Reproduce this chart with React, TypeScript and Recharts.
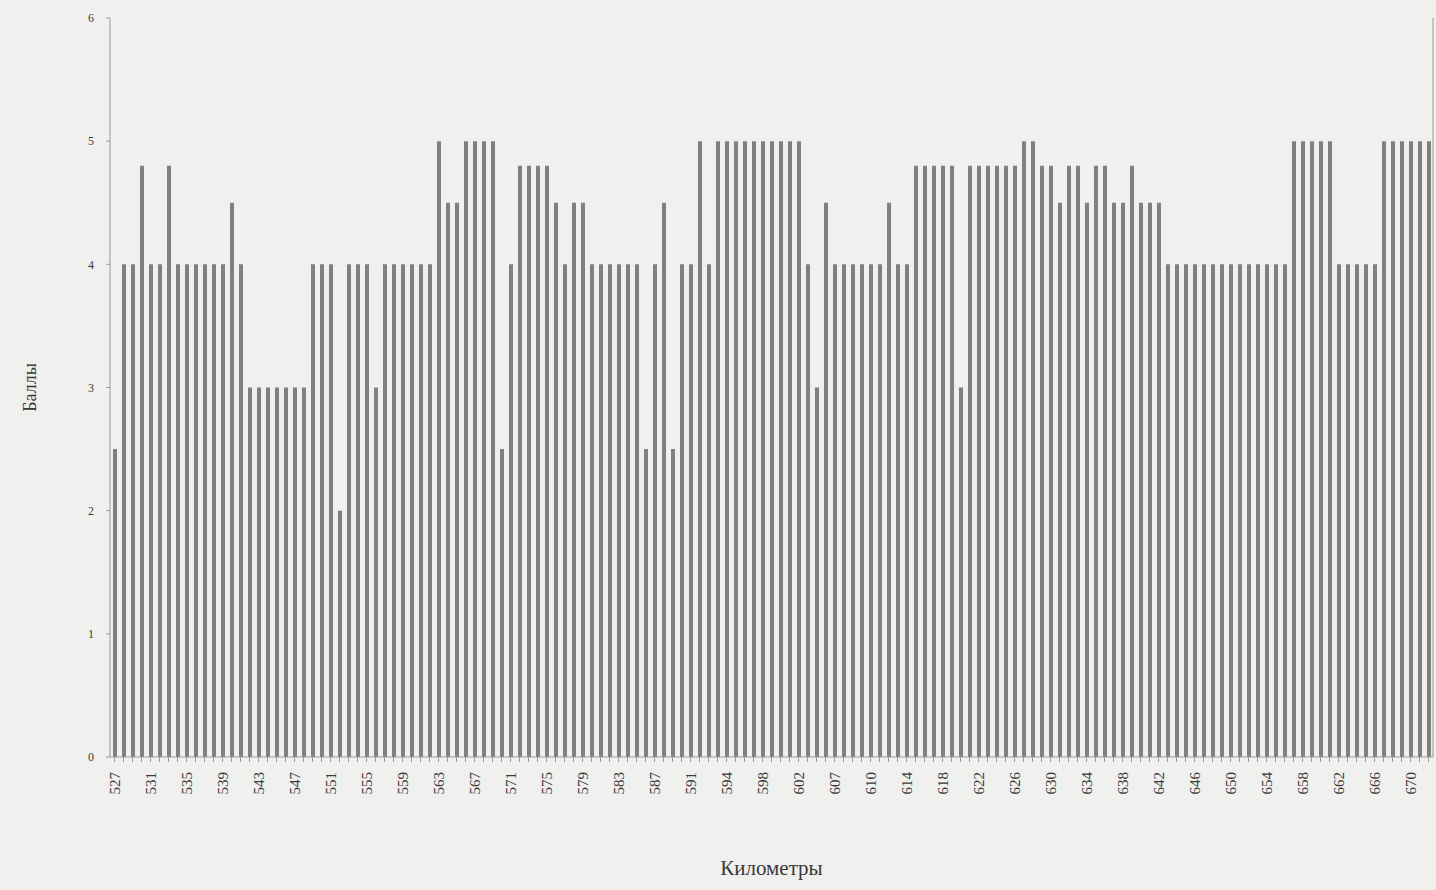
import React from 'react';
import { BarChart, Bar, XAxis, YAxis } from 'recharts';

// Километры (every 4th one is labelled on the axis)
const km: string[] = [
  '527', '528', '529', '530', '531', '532', '533', '534', '535', '536', '537', '538', '539', '540', '541', '542',
  '543', '544', '545', '546', '547', '548', '549', '550', '551', '552', '553', '554', '555', '556', '557', '558',
  '559', '560', '561', '562', '563', '564', '565', '566', '567', '568', '569', '570', '571', '572', '573', '574',
  '575', '576', '577', '578', '579', '580', '581', '582', '583', '584', '585', '586', '587', '588', '589', '590',
  '591', '592', '592', '593', '594', '595', '596', '597', '598', '599', '600', '601', '602', '603', '604', '606',
  '607', '608', '609', '609', '610', '611', '612', '613', '614', '615', '616', '617', '618', '619', '620', '621',
  '622', '623', '624', '625', '626', '627', '628', '629', '630', '631', '632', '633', '634', '635', '636', '637',
  '638', '639', '640', '641', '642', '643', '644', '645', '646', '647', '648', '649', '650', '651', '652', '653',
  '654', '655', '656', '657', '658', '659', '660', '661', '662', '663', '664', '665', '666', '667', '668', '669',
  '670', '671', '672',
];

// Баллы
const score: number[] = [
  2.5, 4, 4, 4.8, 4, 4, 4.8, 4, 4, 4, 4, 4, 4, 4.5, 4, 3,
  3, 3, 3, 3, 3, 3, 4, 4, 4, 2, 4, 4, 4, 3, 4, 4,
  4, 4, 4, 4, 5, 4.5, 4.5, 5, 5, 5, 5, 2.5, 4, 4.8, 4.8, 4.8,
  4.8, 4.5, 4, 4.5, 4.5, 4, 4, 4, 4, 4, 4, 2.5, 4, 4.5, 2.5, 4,
  4, 5, 4, 5, 5, 5, 5, 5, 5, 5, 5, 5, 5, 4, 3, 4.5,
  4, 4, 4, 4, 4, 4, 4.5, 4, 4, 4.8, 4.8, 4.8, 4.8, 4.8, 3, 4.8,
  4.8, 4.8, 4.8, 4.8, 4.8, 5, 5, 4.8, 4.8, 4.5, 4.8, 4.8, 4.5, 4.8, 4.8, 4.5,
  4.5, 4.8, 4.5, 4.5, 4.5, 4, 4, 4, 4, 4, 4, 4, 4, 4, 4, 4,
  4, 4, 4, 5, 5, 5, 5, 5, 4, 4, 4, 4, 4, 5, 5, 5,
  5, 5, 5,
];

const yTicks = [0, 1, 2, 3, 4, 5, 6];

const data = km.map((k, i) => ({ km: k, score: score[i] }));

const FONT = '"Liberation Serif", "DejaVu Serif", serif';
const INK = '#3a3a3a';

const KmTick = (props: any) => {
  const { x, y, payload, index } = props;
  if (index % 4 !== 0) return <g />;
  return (
    <text
      transform={`translate(${x + 5},${y + 8}) rotate(-90)`}
      textAnchor="end"
      fontSize={15}
      fontFamily={FONT}
      fill={INK}
    >
      {payload.value}
    </text>
  );
};

export default function App() {
  return (
    <div style={{ position: 'absolute', left: 0, top: 0, width: 1436, height: 890, background: '#f0f0ee' }}>
      <BarChart
        width={1436}
        height={890}
        data={data}
        margin={{ top: 18, right: 0, bottom: 13, left: 0 }}
        barSize={4}
      >
        <XAxis
          dataKey="km"
          interval={0}
          tick={<KmTick />}
          tickSize={5}
          tickLine={{ stroke: '#999' }}
          axisLine={{ stroke: '#999' }}
          height={120}
          label={{ value: 'Километры', position: 'insideBottom', offset: 2, fontSize: 21, fontFamily: FONT, fill: INK }}
        />
        <XAxis xAxisId="top" dataKey="km" orientation="top" height={0} tick={false} tickLine={false} axisLine={{ stroke: '#999' }} />
        <YAxis
          domain={[0, 6]}
          ticks={yTicks}
          width={110}
          tickSize={4}
          tickMargin={12}
          tickLine={{ stroke: '#999' }}
          axisLine={{ stroke: '#999' }}
          tick={{ fontSize: 12, fontFamily: FONT, fill: INK }}
          label={{ value: 'Баллы', angle: -90, position: 'center', dx: -25, fontSize: 18, fontFamily: FONT, fill: INK }}
        />
        <YAxis yAxisId="right" orientation="right" domain={[0, 6]} width={3} tick={false} tickLine={false} axisLine={{ stroke: '#999' }} />
        <Bar dataKey="score" fill="#808080" isAnimationActive={false} />
      </BarChart>
    </div>
  );
}
